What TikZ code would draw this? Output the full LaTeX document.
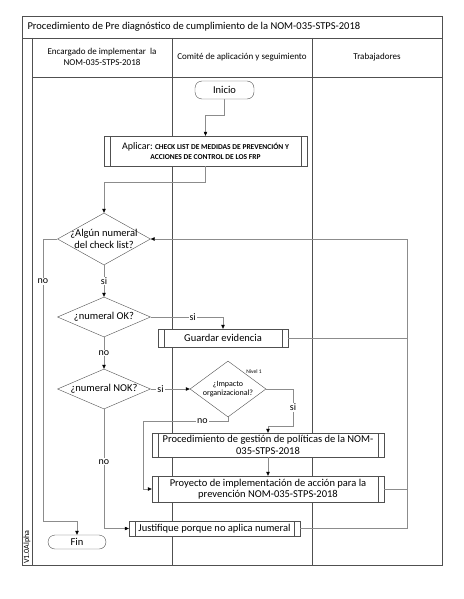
\documentclass[tikz,border=0pt]{standalone}
\usepackage{fontspec}
\setmainfont{Carlito}
\usetikzlibrary{shapes.geometric,arrows.meta}
\definecolor{marco}{HTML}{505050}
\definecolor{linea}{HTML}{8C8C8C}

\begin{document}
\begin{tikzpicture}[x=1pt,y=-1pt,
  txt/.style={font=\fontsize{10.5}{12}\selectfont},
  term/.style={draw=marco,fill=white,rounded corners=7pt,inner sep=0pt,txt},
  caja/.style={draw=marco,fill=white,inner sep=0pt,align=center,txt,
    path picture={\draw[marco] ([xshift=6pt]path picture bounding box.south west) -- ([xshift=6pt]path picture bounding box.north west)
      ([xshift=-6pt]path picture bounding box.south east) -- ([xshift=-6pt]path picture bounding box.north east);}},
  decision/.style={diamond,draw=marco,fill=white,inner sep=0pt,minimum width=93pt,minimum height=#1},
  flecha/.style={draw=linea,-{Triangle[length=4pt,width=3.5pt,color=black]}},
  etq/.style={fill=white,inner sep=1pt,font=\fontsize{10}{12}\selectfont}]
\useasboundingbox (0,0) rectangle (463,599);
\draw[marco,line width=.8pt] (22,16) rectangle (442,565);
\draw[marco,line width=.8pt] (22,38) -- (442,38) (32,38) -- (32,565) (32,77) -- (442,77)
  (172,38) -- (172,565) (312,38) -- (312,565);
\node[anchor=west,txt] (titulo) at (24,27) {Procedimiento de Pre diagnóstico de cumplimiento de la NOM-035-STPS-2018};
\node[align=center,font=\fontsize{9}{11}\selectfont] (encargado) at (102,57) {Encargado de implementar\ \ la\\NOM-035-STPS-2018};
\node[font=\fontsize{9}{11}\selectfont] (comite) at (242,57) {Comité de aplicación y seguimiento};
\node[font=\fontsize{9}{11}\selectfont] (trabajadores) at (377,57) {Trabajadores};
\node[rotate=90,font=\fontsize{8}{9}\selectfont] (version) at (27,547) {V1.0Alpha};

\node[term,minimum width=59pt,minimum height=18pt] (inicio) at (224.5,90) {Inicio};
\node[caja,minimum width=203pt,minimum height=30pt,font=\fontsize{7.5}{10.5}\selectfont\bfseries] (aplicar) at (205.5,151)
  {{\mdseries\fontsize{10}{10.5}\selectfont Aplicar:} CHECK LIST DE MEDIDAS DE PREVENCIÓN Y\\ACCIONES DE CONTROL DE LOS FRP};
\node[decision=52pt,label={[txt,align=center]center:¿Algún numeral\\del check list?}] (alguno) at (104,239) {};
\node[decision=40pt,label={[txt]center:¿numeral OK?}] (ok) at (104,317) {};
\node[caja,minimum width=130pt,minimum height=18pt] (guardar) at (223,338) {Guardar evidencia};
\node[decision=40pt,label={[txt]center:¿numeral NOK?}] (nok) at (104,389) {};
\node[decision=56pt,minimum width=76pt,label={[align=center,font=\fontsize{8}{9.5}\selectfont]center:¿Impacto\\organizacional?}] (impacto) at (228,389) {};
\node[font=\fontsize{5.5}{6}\selectfont] (nivel) at (254,372) {Nivel 1};
\node[caja,minimum width=232pt,minimum height=24pt,font=\fontsize{10.5}{11.5}\selectfont] (politicas) at (268,445)
  {Procedimiento de gestión de políticas de la NOM-\\035-STPS-2018};
\node[caja,minimum width=232pt,minimum height=26pt,font=\fontsize{10.5}{11.5}\selectfont] (proyecto) at (268,489)
  {Proyecto de implementación de acción para la\\prevención NOM-035-STPS-2018};
\node[caja,minimum width=171pt,minimum height=15pt] (justifique) at (214.5,528.5) {Justifique porque no aplica numeral};
\node[term,minimum width=58pt,minimum height=14pt] (fin) at (77,542) {Fin};

\coordinate (nofin) at (43,521);
\coordinate (sibaja) at (293,426);
\coordinate (noproy) at (143,421);
\coordinate (regreso) at (407,239);

\draw[flecha] (inicio.south) -- ++(0,16) -| (aplicar.north);
\draw[flecha] (aplicar.south) -- ++(0,16) -| (alguno.north);
\draw[flecha] (alguno.west) -- (alguno.west -| nofin) -- node[etq,pos=.15]{no} (nofin) -| (fin.north);
\draw[flecha] (alguno.south) -- node[etq]{si} (ok.north);
\draw[flecha] (ok.east) -| node[etq,pos=.29]{si} (guardar.north);
\draw[flecha] (ok.south) -- node[etq]{no} (nok.north);
\draw[flecha] (nok.east) -- node[etq,pos=.25]{si} (impacto.west);
\draw[flecha] (impacto.east) -| node[etq,pos=.75]{si} (sibaja) -| (politicas.north);
\draw[flecha] (impacto.south) |- node[etq,pos=.65]{no} (noproy) |- (proyecto.west);
\draw[flecha] (politicas.south) -- (proyecto.north);
\draw[flecha] (nok.south) |- node[etq,pos=.22]{no} (justifique.west);
\draw[flecha] (justifique.east) -| (regreso) -- (alguno.east);
\draw[linea] (guardar.east) -- (guardar.east -| regreso);
\draw[linea] (proyecto.east) -- (proyecto.east -| regreso);
\end{tikzpicture}
\end{document}
